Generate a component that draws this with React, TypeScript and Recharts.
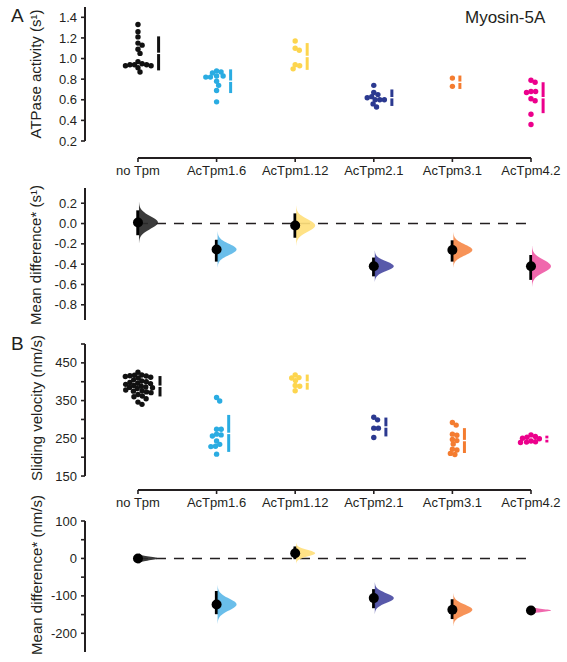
import React from "react";
import {
  ComposedChart,
  Scatter,
  XAxis,
  YAxis,
  ErrorBar,
  ReferenceLine,
} from "recharts";

const groups = ["no Tpm", "AcTpm1.6", "AcTpm1.12", "AcTpm2.1", "AcTpm3.1", "AcTpm4.2"];
const dotColors = ["#111111", "#2AACE2", "#FDD54E", "#2B3990", "#F47C30", "#EC008C"];
const violinColors = ["#2A2A2A", "#5DB9E8", "#FFE07C", "#4A4BA3", "#F68A4A", "#EF5BA6"];

// ATPase activity (s-1)
const atpaseNoTpm = [1.33, 1.26, 1.21, 1.15, 1.13, 1.09, 1.05, 0.97, 0.95, 0.94, 0.94, 0.94, 0.93, 0.93, 0.91, 0.87];
const atpase16 = [0.88, 0.87, 0.86, 0.83, 0.83, 0.82, 0.82, 0.78, 0.74, 0.69, 0.58];
const atpase112 = [1.17, 1.1, 1.08, 0.94, 0.93, 0.9];
const atpase21 = [0.74, 0.67, 0.65, 0.63, 0.62, 0.6, 0.6, 0.6, 0.56, 0.53];
const atpase31 = [0.81, 0.73];
const atpase42 = [0.79, 0.77, 0.68, 0.68, 0.67, 0.61, 0.59, 0.46, 0.36];
const atpaseMean = [1.05, 0.78, 1.02, 0.62, 0.77, 0.62];
const atpaseSd = [0.165, 0.115, 0.13, 0.08, 0.065, 0.15];
const atpaseDiff = [0.01, -0.255, -0.02, -0.42, -0.26, -0.42];
const atpaseCiLow = [-0.115, -0.375, -0.14, -0.52, -0.375, -0.555];
const atpaseCiHigh = [0.13, -0.16, 0.1, -0.335, -0.165, -0.31];

// sliding velocity (nm/s)
const velNoTpm = [425, 418, 417, 416, 415, 414, 412, 410, 405, 402, 400, 398, 396, 395, 393, 390, 388, 386, 385, 384, 382, 378, 376, 375, 373, 371, 366, 362, 360, 355, 346, 340];
const vel16 = [358, 349, 274, 274, 261, 259, 256, 243, 234, 229, 228, 208];
const vel112 = [418, 411, 410, 403, 390, 388, 376];
const vel21 = [306, 299, 277, 277, 252];
const vel31 = [292, 285, 261, 258, 247, 244, 235, 221, 219, 210, 207];
const vel42 = [259, 255, 253, 250, 249, 243, 241, 240, 239];
const velMean = [388, 263, 399, 280, 244, 248];
const velSd = [27, 49, 20, 25, 33, 9];
const velDiff = [0, -123, 14, -106, -137, -139];
const velCiLow = [-9, -149, -2, -133, -162, -146];
const velCiHigh = [9, -87, 32, -82, -109, -132];

const atpaseTicks = [0.2, 0.4, 0.6, 0.8, 1.0, 1.2, 1.4];
const atpaseDiffTicks = [0.2, 0, -0.2, -0.4, -0.6, -0.8];
const velTicks = [150, 200, 250, 300, 350, 400, 450, 500];
const velLabelTicks = [150, 250, 350, 450];
const velDiffTicks = [100, 50, 0, -50, -100, -150, -200];
const velDiffLabelTicks = [100, 0, -100, -200];

const W = 567;
const H = 662;
const X_LEFT = 85;
const X_RIGHT = 560;
const xDomain: [number, number] = [-0.674, 5.369];
const pxPerCat = (X_RIGHT - X_LEFT) / (xDomain[1] - xDomain[0]);
const FONT = '"Liberation Sans", Arial, sans-serif';
const INK = "#231F20";
const catIdx = [0, 1, 2, 3, 4, 5];

// simple beeswarm: horizontal offsets in px so dots do not overlap much
function swarm(values: number[], pxPerUnit: number, d: number) {
  const placed: { x: number; y: number }[] = [];
  const out = new Array(values.length).fill(0);
  const order = values.map((_, i) => i).sort((a, b) => values[b] - values[a]);
  for (const i of order) {
    const y = values[i] * pxPerUnit;
    const cands = [0];
    for (const p of placed) {
      const dy = Math.abs(p.y - y);
      if (dy < d) {
        const dx = Math.sqrt(d * d - dy * dy) + 0.01;
        cands.push(p.x + dx, p.x - dx);
      }
    }
    cands.sort((a, b) => Math.abs(a) - Math.abs(b) || b - a);
    const x =
      cands.find((c) => placed.every((p) => (p.x - c) ** 2 + (p.y - y) ** 2 >= d * d - 0.02)) ?? 0;
    placed.push({ x, y });
    out[i] = x;
  }
  return out;
}

function violinPath(cx: number, cy: number, s: number, w: number) {
  const ext = 3.2 * s;
  let d = `M${cx},${cy - ext}`;
  for (let k = 0; k <= 40; k++) {
    const t = -ext + (2 * ext * k) / 40;
    d += ` L${cx + w * Math.exp((-t * t) / (2 * s * s))},${cy + t}`;
  }
  return d + ` L${cx},${cy + ext} Z`;
}

type SwarmProps = {
  top: number;
  bottom: number;
  domain: [number, number];
  axisMin: number;
  ticks: number[];
  fmt: (v: number) => string;
  values: number[][];
  means: number[];
  sds: number[];
};

function SwarmPanel({ top, bottom, domain, axisMin, ticks, fmt, values, means, sds }: SwarmProps) {
  const pxPerUnit = (bottom - top) / (domain[1] - domain[0]);
  const offs = values.map((v) => swarm(v, pxPerUnit, 4.6));
  return (
    <div style={{ position: "absolute", left: 0, top: 0 }}>
      <ComposedChart
        width={W}
        height={H}
        margin={{ top, bottom: H - bottom - 30, left: X_LEFT - 40, right: W - X_RIGHT }}
      >
        <XAxis
          type="number"
          dataKey="x"
          domain={xDomain}
          allowDataOverflow
          ticks={catIdx}
          interval={0}
          tickFormatter={(i: number) => groups[i]}
          axisLine={false}
          tickLine={{ stroke: INK, strokeWidth: 1.6 }}
          tickSize={4}
          tickMargin={4}
          height={30}
          tick={{ fontSize: 13, fill: INK, fontFamily: FONT }}
        />
        <YAxis
          type="number"
          dataKey="y"
          domain={domain}
          allowDataOverflow
          ticks={ticks}
          interval={0}
          tickFormatter={fmt}
          axisLine={false}
          tickLine={{ stroke: INK, strokeWidth: 1.6 }}
          tickSize={4}
          tickMargin={4}
          width={40}
          tick={{ fontSize: 13, fill: INK, fontFamily: FONT }}
        />
        <ReferenceLine
          segment={[{ x: xDomain[0], y: axisMin }, { x: xDomain[0], y: domain[1] }]}
          stroke={INK}
          strokeWidth={2}
          ifOverflow="visible"
        />
        <ReferenceLine
          segment={[{ x: 0, y: domain[0] }, { x: 5, y: domain[0] }]}
          stroke={INK}
          strokeWidth={2}
          ifOverflow="visible"
        />
        {values.map((vals, g) => (
          <Scatter
            key={"pts" + g}
            data={vals.map((v, k) => ({ x: g + offs[g][k] / pxPerCat, y: v }))}
            isAnimationActive={false}
            shape={(p: any) => <circle cx={p.cx} cy={p.cy} r={2.7} fill={dotColors[g]} />}
          />
        ))}
        {means.map((m, g) => (
          <Scatter
            key={"sd" + g}
            data={[{ x: g + (Math.max(...offs[g]) + 7.5) / pxPerCat, y: m, sd: sds[g] }]}
            isAnimationActive={false}
            shape={(p: any) => (
              <rect x={p.cx - 3} y={p.cy - 0.7} width={6} height={1.4} fill="#ffffff" />
            )}
          >
            <ErrorBar dataKey="sd" direction="y" width={0} stroke={dotColors[g]} strokeWidth={3} />
          </Scatter>
        ))}
      </ComposedChart>
    </div>
  );
}

type DeltaProps = {
  top: number;
  bottom: number;
  domain: [number, number];
  axisMin: number;
  ticks: number[];
  fmt: (v: number) => string;
  diffs: number[];
  lows: number[];
  highs: number[];
};

function DeltaPanel({ top, bottom, domain, axisMin, ticks, fmt, diffs, lows, highs }: DeltaProps) {
  const pxPerUnit = (bottom - top) / (domain[1] - domain[0]);
  return (
    <div style={{ position: "absolute", left: 0, top: 0 }}>
      <ComposedChart
        width={W}
        height={H}
        margin={{ top, bottom: H - bottom, left: X_LEFT - 40, right: W - X_RIGHT }}
      >
        <XAxis type="number" dataKey="x" domain={xDomain} allowDataOverflow hide />
        <YAxis
          type="number"
          dataKey="y"
          domain={domain}
          allowDataOverflow
          ticks={ticks}
          interval={0}
          tickFormatter={fmt}
          axisLine={false}
          tickLine={{ stroke: INK, strokeWidth: 1.6 }}
          tickSize={4}
          tickMargin={4}
          width={40}
          tick={{ fontSize: 13, fill: INK, fontFamily: FONT }}
        />
        <ReferenceLine
          segment={[{ x: xDomain[0], y: axisMin }, { x: xDomain[0], y: domain[1] }]}
          stroke={INK}
          strokeWidth={2}
          ifOverflow="visible"
        />
        <ReferenceLine
          segment={[{ x: 0, y: 0 }, { x: 5, y: 0 }]}
          stroke={INK}
          strokeWidth={1.5}
          strokeDasharray="10 8"
          ifOverflow="visible"
        />
        {diffs.map((dv, g) => (
          <Scatter
            key={"vio" + g}
            data={[{ x: g, y: dv, s: (highs[g] - lows[g]) / 3.92 }]}
            isAnimationActive={false}
            shape={(p: any) => (
              <path
                d={violinPath(p.cx + 1, p.cy, p.payload.s * pxPerUnit, 19)}
                fill={violinColors[g]}
                fillOpacity={0.92}
              />
            )}
          />
        ))}
        {diffs.map((dv, g) => (
          <Scatter
            key={"ci" + g}
            data={[{ x: g, y: dv, ci: [dv - lows[g], highs[g] - dv] }]}
            isAnimationActive={false}
            shape={(p: any) => <circle cx={p.cx} cy={p.cy} r={5} fill="#000" />}
          >
            <ErrorBar dataKey="ci" direction="y" width={0} stroke="#000" strokeWidth={3.4} />
          </Scatter>
        ))}
      </ComposedChart>
    </div>
  );
}

const f1 = (v: number) => v.toFixed(1);

export default function App() {
  return (
    <div
      style={{
        position: "absolute",
        left: 0,
        top: 0,
        width: W,
        height: H,
        background: "#fff",
        fontFamily: FONT,
      }}
    >
      <SwarmPanel
        top={7}
        bottom={158}
        domain={[0.035, 1.5]}
        axisMin={0.2}
        ticks={atpaseTicks}
        fmt={f1}
        values={[atpaseNoTpm, atpase16, atpase112, atpase21, atpase31, atpase42]}
        means={atpaseMean}
        sds={atpaseSd}
      />
      <DeltaPanel
        top={188}
        bottom={320}
        domain={[-0.95, 0.35]}
        axisMin={-0.95}
        ticks={atpaseDiffTicks}
        fmt={f1}
        diffs={atpaseDiff}
        lows={atpaseCiLow}
        highs={atpaseCiHigh}
      />
      <SwarmPanel
        top={344}
        bottom={490}
        domain={[113, 500]}
        axisMin={150}
        ticks={velTicks}
        fmt={(v) => (velLabelTicks.includes(v) ? String(v) : "")}
        values={[velNoTpm, vel16, vel112, vel21, vel31, vel42]}
        means={velMean}
        sds={velSd}
      />
      <DeltaPanel
        top={521}
        bottom={652}
        domain={[-250, 100]}
        axisMin={-250}
        ticks={velDiffTicks}
        fmt={(v) => (velDiffLabelTicks.includes(v) ? String(v) : "")}
        diffs={velDiff}
        lows={velCiLow}
        highs={velCiHigh}
      />
      <svg
        width={W}
        height={H}
        style={{ position: "absolute", left: 0, top: 0, pointerEvents: "none" }}
        fontFamily={FONT}
        fill={INK}
      >
        <text x={11} y={22} fontSize={19}>A</text>
        <text x={11} y={350} fontSize={19}>B</text>
        <text x={465} y={23} fontSize={17}>Myosin-5A</text>
        <text x={41} y={74} fontSize={15} textAnchor="middle" transform="rotate(-90 41 74)">
          ATPase activity (s¹)
        </text>
        <text x={41} y={255} fontSize={15} textAnchor="middle" transform="rotate(-90 41 255)">
          Mean difference* (s¹)
        </text>
        <text x={42} y={408} fontSize={15} textAnchor="middle" transform="rotate(-90 42 408)">
          Sliding velocity (nm/s)
        </text>
        <text x={42} y={575} fontSize={15} textAnchor="middle" transform="rotate(-90 42 575)">
          Mean difference* (nm/s)
        </text>
      </svg>
    </div>
  );
}
